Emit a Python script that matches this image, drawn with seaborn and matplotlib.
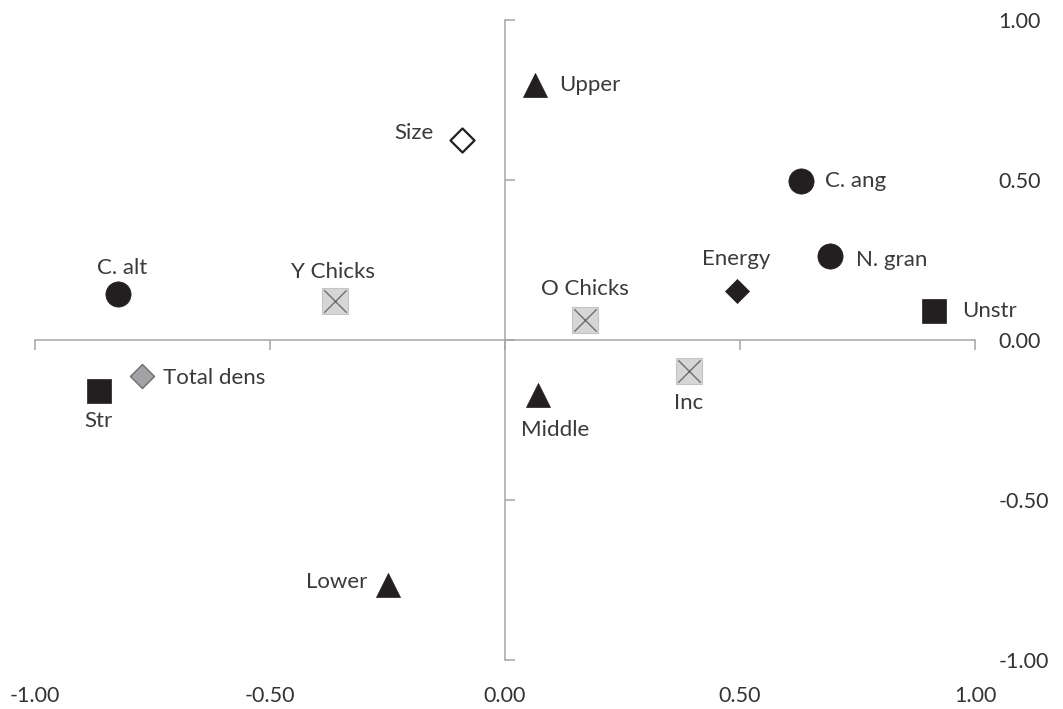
import matplotlib
matplotlib.use('Agg')
import matplotlib.pyplot as plt
import pandas as pd
import seaborn as sns

# ordination scores
labels = ['Upper', 'Size', 'C. ang', 'N. gran', 'C. alt', 'Y Chicks', 'Energy',
          'O Chicks', 'Unstr', 'Total dens', 'Str', 'Inc', 'Middle', 'Lower']
x_vals = [0.064, -0.091, 0.630, 0.691, -0.823, -0.362, 0.494,
          0.170, 0.913, -0.772, -0.864, 0.391, 0.070, -0.249]
y_vals = [0.797, 0.625, 0.497, 0.263, 0.144, 0.122, 0.153,
          0.063, 0.091, -0.113, -0.159, -0.097, -0.172, -0.766]
kinds = ['tri', 'open_dia', 'circle', 'circle', 'circle', 'xbox', 'dia',
         'xbox', 'square', 'gray_dia', 'square', 'xbox', 'tri', 'tri']
ticks = [-1.0, -0.5, 0.0, 0.5, 1.0]

# label placement (offset in points, alignment)
label_pos = {
    'Upper': ((17, 0), 'left', 'center'),
    'Size': ((-21, 5), 'right', 'center'),
    'C. ang': ((17, 0), 'left', 'center'),
    'N. gran': ((19, -3), 'left', 'center'),
    'C. alt': ((3, 19), 'center', 'center'),
    'Y Chicks': ((-1, 21), 'center', 'center'),
    'Energy': ((-1, 23), 'center', 'center'),
    'O Chicks': ((0, 22), 'center', 'center'),
    'Unstr': ((20, 0), 'left', 'center'),
    'Total dens': ((15, -1), 'left', 'center'),
    'Str': ((0, -22), 'center', 'center'),
    'Inc': ((0, -23), 'center', 'center'),
    'Middle': ((-12, -25), 'left', 'center'),
    'Lower': ((-15, 2), 'right', 'center'),
}

df = pd.DataFrame({'label': labels, 'x': x_vals, 'y': y_vals, 'kind': kinds})

sns.set_style('white')
plt.rcParams['font.family'] = ['Lato', 'DejaVu Sans']

fig = plt.figure(figsize=(10.63, 7.09), dpi=100)
ax = fig.add_axes([35 / 1063, 49 / 709, 940 / 1063, 640 / 709])

dark = '#231f20'
styles = {
    'tri': dict(marker='^', s=300, color=dark, edgecolor=dark, linewidth=0.5),
    'circle': dict(marker='o', s=330, color=dark, edgecolor=dark, linewidth=0.5),
    'square': dict(marker='s', s=300, color=dark, edgecolor=dark, linewidth=0.5),
    'dia': dict(marker='D', s=150, color=dark, edgecolor=dark, linewidth=0.5),
    'open_dia': dict(marker='D', s=150, color='white', edgecolor=dark, linewidth=1.6),
    'gray_dia': dict(marker='D', s=150, color='#a3a3a5', edgecolor='#6d6d6f', linewidth=1.0),
    'xbox': dict(marker='s', s=330, color='#d6d6d6', edgecolor='#c4c4c4', linewidth=0.8),
}
for kind, st in styles.items():
    sub = df[df['kind'] == kind]
    sns.scatterplot(data=sub, x='x', y='y', ax=ax, zorder=3, **st)
    if kind == 'xbox':
        sns.scatterplot(data=sub, x='x', y='y', ax=ax, marker='x', s=260,
                        color='#6e6e6e', linewidth=1.0, zorder=4)

for _, row in df.iterrows():
    off, ha, va = label_pos[row['label']]
    ax.annotate(row['label'], (row['x'], row['y']), xytext=off,
                textcoords='offset points', ha=ha, va=va,
                fontsize=16, color='#3a3a3a')

ax.set_xlim(-1, 1)
ax.set_ylim(-1, 1)
ax.set_xlabel('')
ax.set_ylabel('')

# crossing axes at zero
for side in ['top', 'right']:
    ax.spines[side].set_visible(False)
ax.spines['left'].set_position(('data', 0))
ax.spines['bottom'].set_position(('data', 0))
for side in ['left', 'bottom']:
    ax.spines[side].set_color('#a6a6a6')
    ax.spines[side].set_linewidth(1.1)
ax.set_xticks(ticks)
ax.set_yticks(ticks)
ax.tick_params(axis='x', bottom=True, direction='out', length=7, width=1.1,
               color='#a6a6a6', labelbottom=False)
ax.tick_params(axis='y', left=True, direction='in', length=7, width=1.1,
               color='#a6a6a6', labelleft=False)

# tick labels at the outer edges
sec_x = ax.secondary_xaxis(0)
sec_x.set_xticks(ticks, [f'{t:.2f}' for t in ticks])
sec_x.tick_params(length=0, pad=19, labelsize=15.5, labelcolor='#333333')
sec_x.spines['bottom'].set_visible(False)

sec_y = ax.secondary_yaxis('right')
sec_y.set_yticks(ticks, [f'{t:.2f}' for t in ticks])
sec_y.tick_params(length=0, pad=17, labelsize=15.5, labelcolor='#333333')
sec_y.spines['right'].set_visible(False)

fig.savefig('out.png', dpi=100)
